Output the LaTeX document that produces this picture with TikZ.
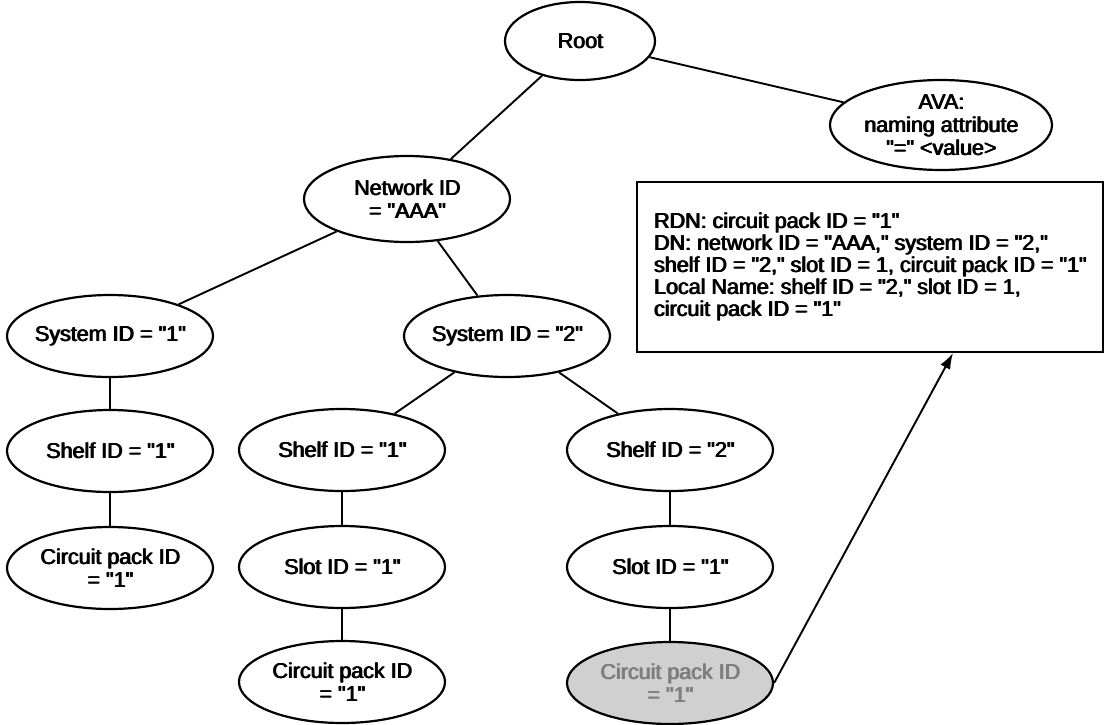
\documentclass[tikz,border=0pt]{standalone}
\usepackage{fontspec}
\usetikzlibrary{shapes.geometric,arrows.meta}
\newfontfamily\labelfont{Liberation Sans}
% overprint a line with a small offset for a heavier stroke
\newcommand\hv[1]{\leavevmode\rlap{\kern1.1pt#1}\rlap{\kern0.55pt#1}#1}
\definecolor{packfill}{HTML}{D0D0D0}
\definecolor{packtext}{HTML}{7E7E7E}
\begin{document}
\begin{tikzpicture}[x=1pt,y=-1pt,
  every node/.style={font=\labelfont\fontsize{21.5}{23}\selectfont\frenchspacing},
  tnode/.style={ellipse, draw=black, line width=2.2pt, align=center,
    inner sep=-8pt, minimum width=206pt, minimum height=82pt},
  infobox/.style={draw=black, line width=2pt, align=left,
    minimum width=466pt, minimum height=170pt,
    font=\labelfont\fontsize{21.5}{22}\selectfont\frenchspacing},
  link/.style={line width=1.9pt}]
\useasboundingbox (0,0) rectangle (1108,724);

% naming tree
\node[tnode, minimum width=150pt, minimum height=78pt] (root) at (580,41) {\hv{Root}};
\node[tnode, minimum width=222pt, minimum height=90pt] (ava) at (941,125)
  {\hv{AVA:}\\\hv{naming attribute}\\\hv{"=" <value>}};
\node[tnode, minimum height=86pt] (net) at (407,199) {\hv{Network ID}\\\hv{= "AAA"}};
\node[tnode] (sys1) at (110,336) {\hv{System ID = "1"}};
\node[tnode] (sys2) at (507,336) {\hv{System ID = "2"}};
\node[tnode] (sh1) at (110,451) {\hv{Shelf ID = "1"}};
\node[tnode] (cp1) at (110,568) {\hv{Circuit pack ID}\\\hv{= "1"}};
\node[tnode] (sh21) at (342,450) {\hv{Shelf ID = "1"}};
\node[tnode] (sl21) at (342,567) {\hv{Slot ID = "1"}};
\node[tnode] (cp21) at (342,682) {\hv{Circuit pack ID}\\\hv{= "1"}};
\node[tnode] (sh22) at (670,450) {\hv{Shelf ID = "2"}};
\node[tnode] (sl22) at (670,567) {\hv{Slot ID = "1"}};
\node[tnode, fill=packfill, text=packtext] (cp22) at (670,683)
  {\hv{Circuit pack ID}\\\hv{= "1"}};

% names of the highlighted circuit pack
\node[infobox] (info) at (870,267)
  {\hv{RDN: circuit pack ID = "1"}\\
   \hv{DN: network ID = "AAA," system ID = "2,"}\\
   \hv{shelf ID = "2," slot ID = 1, circuit pack ID = "1"}\\
   \hv{Local Name: shelf ID = "2," slot ID = 1,}\\
   \hv{circuit pack ID = "1"}};

% tree edges
\draw[link] (root) -- (net);
\draw[link] (root) -- (ava);
\draw[link] (net) -- (sys1);
\draw[link] (net) -- (sys2);
\draw[link] (sys1) -- (sh1);
\draw[link] (sh1) -- (cp1);
\draw[link] (sys2) -- (sh21);
\draw[link] (sys2) -- (sh22);
\draw[link] (sh21) -- (sl21);
\draw[link] (sl21) -- (cp21);
\draw[link] (sh22) -- (sl22);
\draw[link] (sl22) -- (cp22);

% pointer from the leaf to its names
\draw[link, -{Latex[length=16pt,width=11pt]}] (cp22.east) -- ([xshift=83pt]info.south);
\end{tikzpicture}
\end{document}
